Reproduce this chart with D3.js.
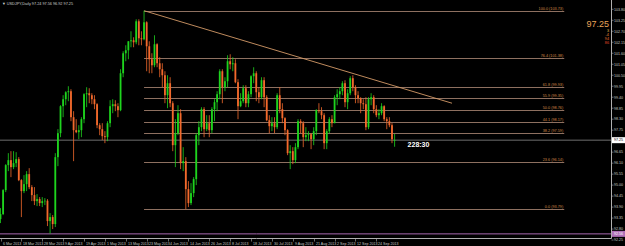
<!DOCTYPE html>
<html lang="en">
<head>
<meta charset="UTF-8">
<title>USDJPY Daily</title>
<script src="https://d3js.org/d3.v7.min.js"></script>
<style>
    body{
        margin: 0;
        background: #000;
    }
    svg{
        display: block;
        background: #000;
        font-family: "Liberation Sans", Arial, sans-serif;
    }
</style>
</head>
<body>
<svg></svg>
<script>
    // daily bars, 6 Mar 2013 .. 3 Oct 2013 (weekdays)
    const opens = [93.30,93.55,94.75,96.00,96.25,95.90,96.10,96.30,95.25,94.70,95.05,95.55,94.90,94.50,94.20,94.30,94.10,94.20,
        94.22,93.20,93.40,93.05,96.40,97.60,98.95,99.30,99.65,99.70,98.40,97.75,97.65,97.75,98.30,99.55,99.60,99.50,99.30,99.05,98.00,97.80,
        97.45,97.40,98.10,98.95,99.05,98.95,98.75,100.60,101.60,101.75,102.20,102.25,102.15,103.20,102.35,102.30,103.15,101.95,101.30,101.00,102.05,101.10,100.80,
        100.50,99.50,100.10,99.10,97.00,97.60,98.60,96.10,96.20,94.80,94.10,94.60,95.30,97.50,97.90,98.80,97.80,98.10,97.75,98.80,
        99.15,99.55,100.70,99.90,100.20,101.20,101.05,101.10,100.15,98.95,99.20,99.85,99.10,99.55,100.45,100.60,99.65,99.40,100.25,99.40,98.25,97.95,98.10,
        97.90,99.50,98.80,98.35,97.75,96.60,96.70,96.25,96.90,98.20,98.10,97.40,97.50,97.55,97.30,97.70,98.75,98.70,98.50,97.10,97.70,98.30,
        98.10,99.40,99.55,99.70,100.10,99.15,99.60,100.35,99.90,99.50,99.35,99.10,99.05,97.90,99.30,99.40,98.80,98.50,98.60,98.95,98.30,
        98.20,98.00,97.24];
    const highs = [93.85,94.80,96.05,96.60,96.70,96.70,96.65,96.40,95.30,95.50,95.70,95.85,95.00,94.90,94.55,94.40,94.40,94.35,
        94.30,93.60,93.50,96.60,97.80,99.00,99.50,99.70,99.95,99.80,98.70,98.30,98.00,98.40,99.60,99.90,99.85,99.60,99.50,99.10,98.10,98.10,
        97.70,98.20,99.25,99.30,99.25,99.10,100.80,101.70,102.00,102.20,102.70,102.40,103.30,103.30,102.70,103.73,103.20,102.20,101.60,102.50,102.10,101.40,101.10,
        100.70,100.50,100.40,99.20,98.30,99.00,98.80,96.90,96.40,95.20,95.10,95.40,97.60,98.20,98.90,98.90,98.50,98.50,98.90,99.30,
        99.70,100.80,100.80,100.40,101.50,101.55,101.40,101.30,100.30,99.60,100.00,100.00,99.70,100.50,100.90,100.70,99.90,100.40,100.40,99.50,98.50,98.40,98.40,
        99.60,99.90,99.10,98.40,97.80,97.00,96.90,97.10,98.30,98.30,98.20,97.90,97.70,97.60,97.90,98.80,99.10,98.90,98.60,97.80,98.40,98.50,
        99.50,99.80,99.90,100.20,100.25,99.80,100.45,100.50,100.00,99.70,99.40,99.30,99.40,99.40,99.60,99.50,99.00,98.80,99.10,99.00,98.40,
        98.40,98.10,97.56];
    const lows = [93.10,93.50,94.65,95.70,95.40,95.80,95.90,95.20,93.40,94.60,94.70,94.80,94.20,94.00,93.95,93.95,93.90,94.00,
        92.95,92.57,92.80,92.90,95.95,97.40,98.40,99.00,99.20,98.20,96.20,97.60,97.30,97.40,98.10,98.90,99.10,99.05,98.80,97.85,97.50,97.25,
        97.10,97.20,97.90,98.60,98.70,98.40,98.70,100.40,101.20,101.30,101.90,101.90,102.05,102.00,102.00,102.25,100.70,100.60,100.60,100.90,100.90,100.40,99.90,
        99.10,98.85,98.90,96.70,95.90,97.50,95.80,95.70,93.79,93.90,94.00,94.40,95.00,97.00,97.70,97.40,97.70,97.40,97.60,98.20,
        98.70,99.30,99.10,99.70,99.90,100.80,100.70,100.10,98.30,98.90,99.10,98.90,98.90,99.40,100.10,99.20,99.10,99.30,98.90,98.20,97.60,97.70,97.60,
        97.80,98.60,98.10,97.50,96.50,95.80,96.05,96.10,96.80,97.60,96.90,97.20,97.20,96.80,97.00,97.50,98.60,98.30,96.80,96.80,97.60,97.90,
        98.10,99.00,99.30,99.50,98.90,98.80,99.50,99.70,99.10,99.10,98.60,98.80,97.75,97.80,99.00,98.60,98.40,98.30,98.50,98.20,97.80,
        97.90,97.10,96.92];
    const closes = [93.55,94.75,96.00,96.25,95.90,96.10,96.30,95.25,94.70,95.05,95.55,94.90,94.50,94.20,94.30,94.10,94.20,94.22,
        93.20,93.40,93.05,96.40,97.60,98.95,99.30,99.65,99.70,98.40,97.75,97.65,97.75,98.30,99.55,99.60,99.50,99.30,99.05,98.00,97.80,97.45,
        97.40,98.10,98.95,99.05,98.95,98.75,100.60,101.60,101.75,102.20,102.25,102.15,103.20,102.35,102.30,103.15,101.95,101.30,101.00,102.05,101.10,100.80,100.50,
        99.50,100.10,99.10,97.00,97.60,98.60,96.10,96.20,94.80,94.10,94.60,95.30,97.50,97.90,98.80,97.80,98.10,97.75,98.80,99.15,
        99.55,100.70,99.90,100.20,101.20,101.05,101.10,100.15,98.95,99.20,99.85,99.10,99.55,100.45,100.60,99.65,99.40,100.25,99.40,98.25,97.95,98.10,97.90,
        99.50,98.80,98.35,97.75,96.60,96.70,96.25,96.90,98.20,98.10,97.40,97.50,97.55,97.30,97.70,98.75,98.70,98.50,97.10,97.70,98.30,98.10,
        99.40,99.55,99.70,100.10,99.15,99.60,100.35,99.90,99.50,99.35,99.10,99.05,97.90,99.30,99.40,98.80,98.50,98.60,98.95,98.30,98.20,
        98.00,97.30,97.25];

    const dateLabels = ["6 Mar 2013","18 Mar 2013","28 Mar 2013","9 Apr 2013","19 Apr 2013","1 May 2013","13 May 2013",
        "23 May 2013","4 Jun 2013","14 Jun 2013","26 Jun 2013","8 Jul 2013","18 Jul 2013","30 Jul 2013","9 Aug 2013",
        "21 Aug 2013","2 Sep 2013","12 Sep 2013","24 Sep 2013"];
    const priceTicks = [103.80,103.25,102.70,102.15,101.60,101.05,100.50,99.95,99.40,98.85,98.30,97.75,
        96.65,96.10,95.55,95.00,94.45,93.90,93.35,92.80,92.25];

    // fibonacci drawn from the 22 May high to the 13 Jun low
    const fibHigh = {bar: 55, price: 103.73};
    const fibLow = {bar: 71, price: 93.79};
    const fibLevels = [100.0, 76.4, 61.8, 55.9, 50.0, 44.1, 38.2, 23.6, 0.0];
    const trendLine = [{bar: 55, price: 103.73}, {bar: 173, price: 99.10}];
    const fibEndBar = 216;
    const lastPrice = 97.25;
    const alertPrice = 92.56;
    const header = "\u25BC USDJPY,Daily  97.24 97.56 96.92 97.25";
    const timer = "228:30";

    const width = 625, height = 246;
    const axisX = 611.5, axisY = 238.5;
    const up = "#1ed41e", down = "#f2692c";

    const svg = d3.select("svg").attr("width", width).attr("height", height);

    const bars = closes.map((c, i) => ({i, o: opens[i], h: highs[i], l: lows[i], c}));

    const x = d3.scaleLinear().domain([0, 151]).range([0.5, 394.6]);
    const y = d3.scaleLinear().domain([fibLow.price, fibHigh.price]).range([209.3, 10.7]);

    // header text
    svg.append("text").attr("x", 2).attr("y", 5).attr("fill", "#d0d0d0")
        .attr("font-size", 3.8).text(header);

    // alert line & current price line
    svg.append("line").attr("x1", 0).attr("x2", axisX).attr("y1", y(alertPrice)).attr("y2", y(alertPrice))
        .attr("stroke", "#a868b0").attr("stroke-width", 1);
    svg.append("line").attr("x1", 0).attr("x2", axisX).attr("y1", y(lastPrice)).attr("y2", y(lastPrice))
        .attr("stroke", "#8a8a8a").attr("stroke-width", 0.8);

    // fibonacci retracement
    const fib = svg.append("g");
    fibLevels.forEach(lv => {
        const p = fibLow.price + (fibHigh.price - fibLow.price) * lv / 100;
        const yy = Math.round(y(p)) + 0.5;
        fib.append("line").attr("x1", x(fibHigh.bar)).attr("x2", x(fibEndBar))
            .attr("y1", yy).attr("y2", yy).attr("stroke", "#8e7060").attr("stroke-width", 1);
        fib.append("text").attr("x", x(fibEndBar) - 1).attr("y", yy - 1.2)
            .attr("text-anchor", "end").attr("font-size", 3.8).attr("fill", "#d08848")
            .text(`${lv.toFixed(1)} (${p.toFixed(2)})`);
    });

    // trend line
    svg.append("line")
        .attr("x1", x(trendLine[0].bar)).attr("y1", y(trendLine[0].price))
        .attr("x2", x(trendLine[1].bar)).attr("y2", y(trendLine[1].price))
        .attr("stroke", "#d49a68").attr("stroke-width", 0.9);

    // candles
    const candles = svg.append("g").selectAll("g").data(bars).enter().append("g");
    candles.append("line")
        .attr("x1", d => x(d.i)).attr("x2", d => x(d.i))
        .attr("y1", d => y(d.h)).attr("y2", d => y(d.l))
        .attr("stroke", d => d.c >= d.o ? up : down).attr("stroke-width", 0.8);
    candles.append("rect")
        .attr("x", d => x(d.i) - 0.9).attr("width", 1.8)
        .attr("y", d => y(Math.max(d.o, d.c)))
        .attr("height", d => Math.max(0.6, Math.abs(y(d.o) - y(d.c))))
        .attr("fill", d => d.c >= d.o ? up : down);

    // candle timer
    svg.append("text").attr("x", x(151) + 13).attr("y", y(lastPrice) + 7)
        .attr("fill", "#ffffff").attr("font-weight", "bold").attr("font-size", 7).text(timer);

    // price axis
    svg.append("line").attr("x1", axisX).attr("x2", axisX).attr("y1", 0).attr("y2", axisY)
        .attr("stroke", "#b0b0b0").attr("stroke-width", 1);
    svg.append("line").attr("x1", 0).attr("x2", axisX).attr("y1", axisY).attr("y2", axisY)
        .attr("stroke", "#b0b0b0").attr("stroke-width", 1);
    const yAx = svg.append("g");
    priceTicks.forEach(p => {
        yAx.append("line").attr("x1", axisX).attr("x2", axisX + 2).attr("y1", y(p)).attr("y2", y(p))
            .attr("stroke", "#b0b0b0").attr("stroke-width", 0.6);
        yAx.append("text").attr("x", 614).attr("y", y(p) + 1.3).attr("font-size", 3.6)
            .attr("fill", "#c8c8c8").text(p.toFixed(2));
    });
    // price marks
    svg.append("rect").attr("x", 612).attr("y", y(lastPrice) - 3).attr("width", 13).attr("height", 6).attr("fill", "#ffffff");
    svg.append("text").attr("x", 614).attr("y", y(lastPrice) + 1.3).attr("font-size", 3.6).attr("fill", "#000").text(lastPrice.toFixed(2));
    svg.append("rect").attr("x", 612).attr("y", y(alertPrice) - 3).attr("width", 13).attr("height", 6).attr("fill", "#b070b8");
    svg.append("text").attr("x", 614).attr("y", y(alertPrice) + 1.3).attr("font-size", 3.6).attr("fill", "#fff").text(alertPrice.toFixed(2));

    // time axis
    const xAx = svg.append("g");
    dateLabels.forEach((t, k) => {
        const xx = Math.round(x(k * 8)) + 0.5;
        xAx.append("line").attr("x1", xx).attr("x2", xx).attr("y1", axisY).attr("y2", axisY + 3)
            .attr("stroke", "#b0b0b0").attr("stroke-width", 0.6);
        xAx.append("text").attr("x", xx + 1.5).attr("y", 244.5).attr("font-size", 3.6)
            .attr("fill", "#c8c8c8").text(t);
    });

    // bid info panel, top right
    svg.append("text").attr("x", 609).attr("y", 27).attr("text-anchor", "end")
        .attr("font-size", 9).attr("fill", "#e8a458").text(lastPrice.toFixed(2));
    const info = [["3", "#e8c050"], ["-4", "#e89040"], ["94", "#e87030"], ["86", "#e84a2a"]];
    info.forEach((d, k) => {
        svg.append("text").attr("x", 609).attr("y", 31.5 + k * 4).attr("text-anchor", "end")
            .attr("font-size", 3.8).attr("fill", d[1]).text(d[0]);
    });
</script>
</body>
</html>
